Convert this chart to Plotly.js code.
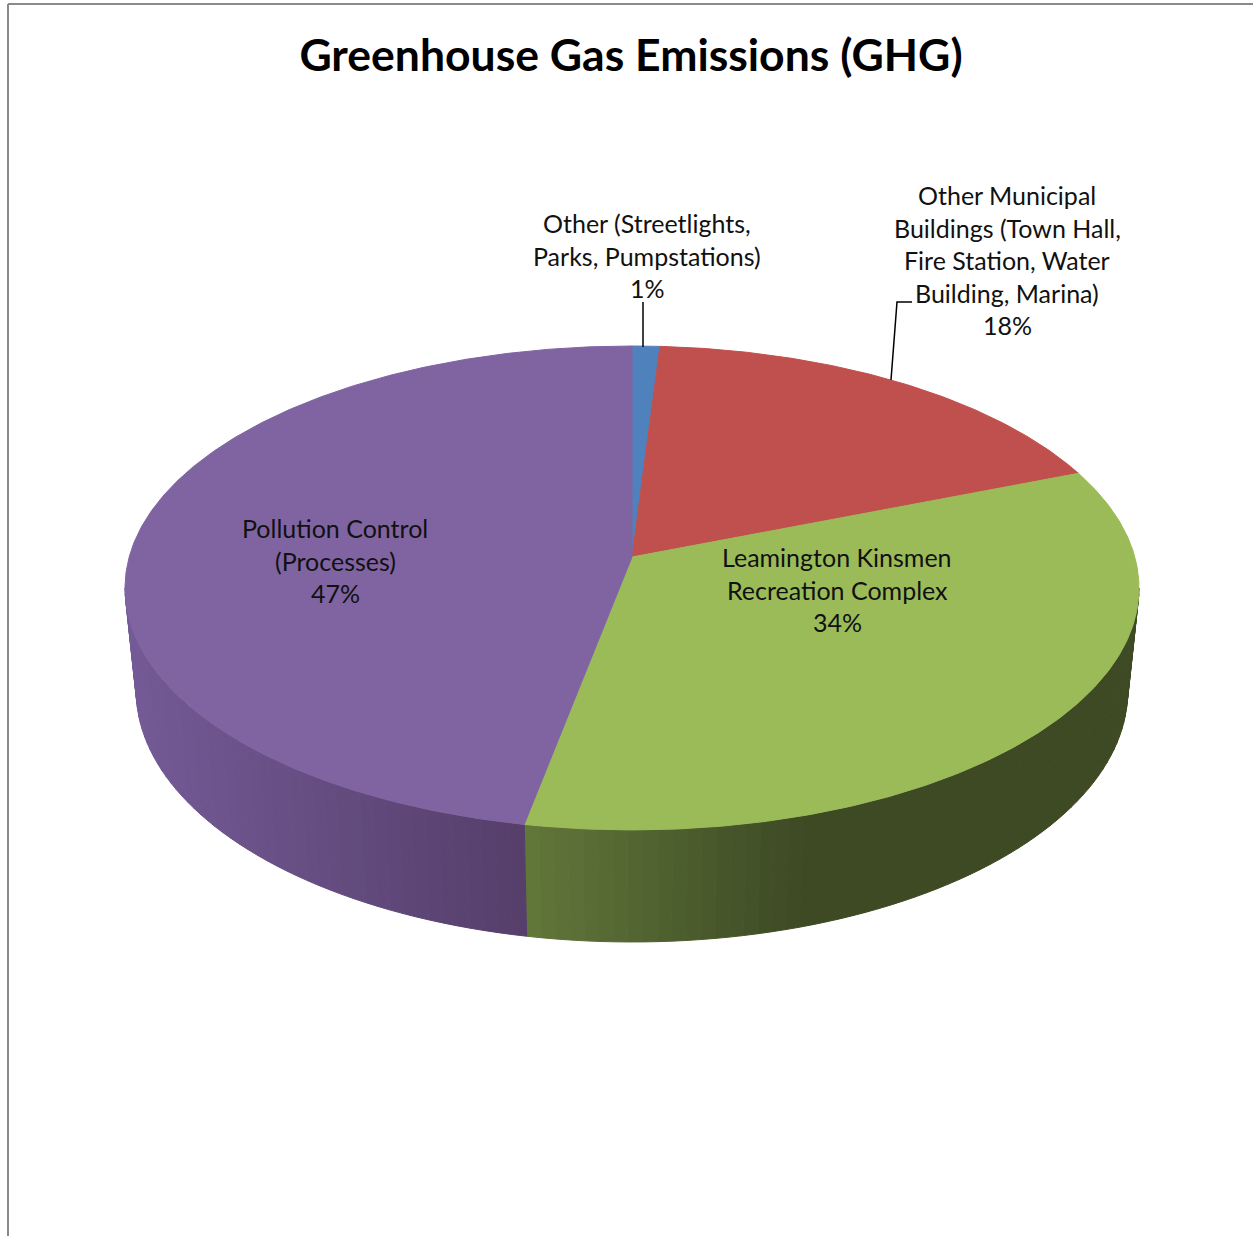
<!DOCTYPE html>
<html>
<head>
<meta charset="utf-8">
<script src="https://cdn.plot.ly/plotly-3.0.1.min.js"></script>
<style>html,body{margin:0;padding:0;background:#fff;}</style>
</head>
<body>
<div id="chart" style="width:1253px;height:1236px;"></div>
<script>
// ---- data ----
const categories = [
  "Other (Streetlights,<br>Parks, Pumpstations)",
  "Other Municipal<br>Buildings (Town Hall,<br>Fire Station, Water<br>Building, Marina)",
  "Leamington Kinsmen<br>Recreation Complex",
  "Pollution Control<br>(Processes)"
];
const shares = [1, 18, 34, 47];
const topColors = ["#4f81bd", "#c0504d", "#9bbb59", "#8064a2"];
const wallLight = ["#3f6797", "#9a403e", "#62773a", "#745a96"];
const wallDark  = ["#2f4d71", "#73302e", "#3d4a24", "#553f6a"];
const wallRamp  = [1, 1, 0.45, 1];   // fraction of the visible wall over which the shade darkens

// ---- disc geometry (screen units) ----
// A tilted disc seen in perspective: u = sin(angle), v = cos(angle) (v > 0 lies towards the back).
const W = 1253, H = 1236;
const TOP  = {cx: 632, a: 502.8, e: -166.7, f: 557,   h: 0.128};
const BASE = {cx: 632, a: 491.7, e: -163.0, f: 658.4, h: 0.128};

function project(P, t, r) {
  const u = r * Math.sin(t), v = r * Math.cos(t);
  const d = 1 + P.h * v;
  return [P.cx + P.a * u / d, (P.e * v + P.f) / d];
}
const topPt  = t => project(TOP, t, 1);
const basePt = t => project(BASE, t, 1);

function hexToRgb(hx) {
  const n = parseInt(hx.slice(1), 16);
  return [(n >> 16) & 255, (n >> 8) & 255, n & 255];
}
function mix(a, b, f) {
  const A = hexToRgb(a), B = hexToRgb(b);
  const c = A.map((v, i) => Math.round(v + (B[i] - v) * f));
  return `rgb(${c[0]},${c[1]},${c[2]})`;
}

const total = shares.reduce((s, v) => s + v, 0);
const angles = [];
let acc = 0;
shares.forEach(v => {
  const a0 = 2 * Math.PI * acc / total;
  acc += v;
  angles.push([a0, 2 * Math.PI * acc / total]);
});

const wallTraces = [];
const topTraces = [];
const STEP = Math.PI / 180;
const hub = project(TOP, 0, 0);
// the silhouette of the side wall sits where cos(angle) = -h
const wallFrom = Math.PI - Math.acos(TOP.h), wallTo = Math.PI + Math.acos(TOP.h);

angles.forEach(([a0, a1], i) => {
  // side wall: only the front part of the disc is visible
  const w0 = Math.max(a0, wallFrom), w1 = Math.min(a1, wallTo);
  if (w1 > w0) {
    const n = Math.max(1, Math.ceil((w1 - w0) / (1.5 * STEP)));
    const xs0 = Math.min(topPt(w0)[0], topPt(w1)[0]);
    const xs1 = Math.max(topPt(w0)[0], topPt(w1)[0]);
    for (let k = 0; k < n; k++) {
      const t0 = w0 + (w1 - w0) * k / n;
      const t1 = w0 + (w1 - w0) * (k + 1) / n;
      const p = [topPt(t0), topPt(t1), basePt(t1), basePt(t0), topPt(t0)];
      const xm = (p[0][0] + p[1][0]) / 2;
      const f = Math.min(1, ((xm - xs0) / (xs1 - xs0)) / wallRamp[i]);
      const col = mix(wallLight[i], wallDark[i], f);
      wallTraces.push({
        type: "scatter", mode: "lines", fill: "toself",
        x: p.map(q => q[0]), y: p.map(q => q[1]),
        fillcolor: col, line: {color: col, width: 1},
        hoverinfo: "skip", showlegend: false
      });
    }
  }
  // top face
  const xs = [hub[0]], ys = [hub[1]];
  const m = Math.max(2, Math.ceil((a1 - a0) / (0.5 * STEP)));
  for (let k = 0; k <= m; k++) {
    const q = topPt(a0 + (a1 - a0) * k / m);
    xs.push(q[0]); ys.push(q[1]);
  }
  xs.push(hub[0]); ys.push(hub[1]);
  topTraces.push({
    type: "scatter", mode: "lines", fill: "toself",
    x: xs, y: ys, fillcolor: topColors[i],
    line: {color: topColors[i], width: 1},
    hoverinfo: "skip", showlegend: false, name: categories[i].replace(/<br>/g, " ")
  });
});

// ---- data labels: category lines followed by the percentage ----
const labelPos = [
  {x: 647, y: 223},
  {x: 1007, y: 195},
  {x: 837, y: 557},
  {x: 335, y: 528}
];
const LINE_GAP = 32.5;
const annotations = [];
categories.forEach((c, i) => {
  const lines = c.split("<br>").concat([shares[i] + "%"]);
  lines.forEach((ln, j) => {
    annotations.push({
      x: labelPos[i].x, y: labelPos[i].y + j * LINE_GAP, xref: "x", yref: "y",
      text: ln, showarrow: false, xanchor: "center", yanchor: "middle",
      font: {family: "Lato, 'Open Sans', sans-serif", size: 25, color: "#111"}
    });
  });
});

// leader lines from labels to their slices
const blueTip = topPt((angles[0][0] + angles[0][1]) / 2);
const shapes = [
  {type: "line", xref: "x", yref: "y", x0: 643, y0: 302, x1: 643, y1: blueTip[1] + 1,
   line: {color: "#000", width: 1.5}},
  {type: "path", xref: "x", yref: "y", path: "M 912 302 L 897 302 L 891 380",
   line: {color: "#000", width: 1.5}},
  // chart frame
  {type: "line", xref: "paper", yref: "paper", x0: 8 / W, x1: 1, y0: 1 - 4 / H, y1: 1 - 4 / H,
   line: {color: "#8a8a8a", width: 2}},
  {type: "line", xref: "paper", yref: "paper", x0: 8 / W, x1: 8 / W, y0: 0, y1: 1 - 4 / H,
   line: {color: "#8a8a8a", width: 2}}
];

const layout = {
  width: W, height: H,
  margin: {l: 0, r: 0, t: 0, b: 0},
  paper_bgcolor: "#fff", plot_bgcolor: "#fff",
  showlegend: false,
  xaxis: {range: [0, W], visible: false, fixedrange: true},
  yaxis: {range: [H, 0], visible: false, fixedrange: true},
  title: {
    text: "<b>Greenhouse Gas Emissions (GHG)</b>",
    x: 631 / W, xanchor: "center", xref: "container",
    y: 1 - 55 / H, yanchor: "middle", yref: "container",
    font: {family: "Lato, 'Open Sans', sans-serif", size: 44.5, color: "#000"}
  },
  annotations: annotations,
  shapes: shapes
};

Plotly.newPlot("chart", wallTraces.concat(topTraces), layout, {displayModeBar: false, staticPlot: true});
</script>
</body>
</html>
